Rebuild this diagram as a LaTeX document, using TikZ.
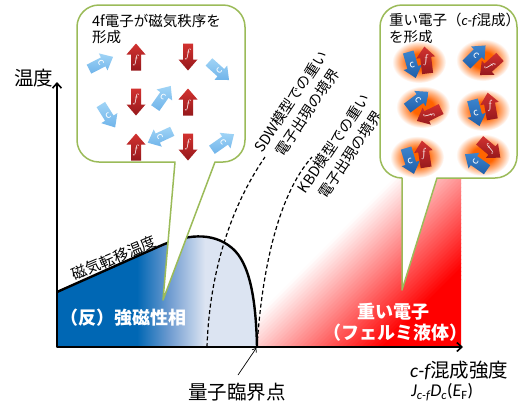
\documentclass[tikz,border=0pt]{standalone}
\usepackage{fontspec}
\newfontfamily\jp{Noto Sans CJK JP}
\newfontfamily\lat{Carlito}
\usetikzlibrary{arrows.meta}

\definecolor{bubblegreen}{RGB}{155,187,89}
\definecolor{phaseblue}{RGB}{0,103,180}
\definecolor{midblue}{RGB}{110,155,208}
\definecolor{paleblue}{RGB}{220,228,242}
\definecolor{lightc}{RGB}{160,212,246}
\definecolor{lightcdark}{RGB}{112,180,234}
\definecolor{fred}{RGB}{210,50,48}
\definecolor{freddark}{RGB}{150,25,28}
\definecolor{cblue}{RGB}{60,132,205}
\definecolor{cbluedark}{RGB}{32,95,170}
\definecolor{glowcore}{RGB}{255,100,0}

% ordered-phase fill: deep blue fading to pale blue towards the critical point
\pgfdeclarehorizontalshading{bluefade}{100bp}{color(0bp)=(phaseblue); color(45bp)=(phaseblue); color(53bp)=(midblue); color(62bp)=(paleblue); color(100bp)=(paleblue)}
% orange halo behind each c-f pair
\pgfdeclareradialshading{glow}{\pgfpoint{0bp}{0bp}}{color(0bp)=(glowcore); color(10bp)=(glowcore); color(18bp)=(glowcore!50!white); color(25bp)=(white); color(50bp)=(white)}

\begin{document}
\begin{tikzpicture}[x=1pt, y=-1pt, line join=round,
  axisline/.style={line width=1.6pt, {Straight Barb[length=5pt,width=9pt]}-{Straight Barb[length=5pt,width=9pt]}},
  bound/.style={line width=1.2pt, dash pattern=on 4pt off 2.6pt},
  bubble/.style={fill=white, draw=bubblegreen, line width=1.5pt},
  jlabel/.style={font=\jp\fontsize{19.5}{22}\selectfont, inner sep=0pt},
  phase/.style={text=white, font=\jp\bfseries\fontsize{18}{20}\selectfont, inner sep=0pt},
  curvetext/.style={font=\jp\fontsize{14.5}{18}\selectfont, align=center, inner sep=0pt},
  title/.style={font=\jp\fontsize{14.5}{16}\selectfont, anchor=west, inner sep=0pt},
  carrowL/.style={top color=lightc, bottom color=lightcdark},
  farrow/.style={top color=fred, bottom color=freddark},
  carrowR/.style={top color=cblue, bottom color=cbluedark},
  cletter/.style={text=white, font=\jp\fontsize{10}{10}\selectfont, inner sep=0pt},
  fletter/.style={text=white, font=\fontsize{12}{12}\selectfont, inner sep=0pt},
]
\useasboundingbox (0,0) rectangle (520,405);

\coordinate (O) at (57,347);
\coordinate (ytop) at (57,82);
\coordinate (xend) at (463,347);
\coordinate (qcp) at (257,347);
\coordinate (tc0) at (57,292);
\coordinate (qcptail) at (238,375);

% (anti)ferromagnetic phase
\shade[shading=bluefade] (O) -- (tc0) -- (160,246) .. controls (185,234.8) and (212,231) .. (232,248) .. controls (250,263) and (256,300) .. (qcp) -- cycle;

% heavy-fermion region, diagonal fade
\begin{scope}
  \clip (qcp) .. controls (262,270) and (278,195) .. (312,157) -- (461,157) -- (461,347) -- cycle;
  \foreach \p in {560,564,...,736}{
    \pgfmathsetmacro\pct{max(0,min(100,(\p+2-572)/1.58))}
    \fill[red!\pct!white] (\p-140,140) -- (\p+5-140,140) -- (\p+5-360,360) -- (\p-360,360) -- cycle;
  }
  \fill[red] (600,140) -- (900,140) -- (900,360) -- (380,360) -- cycle;
\end{scope}

% magnetic transition line
\draw[line width=2.4pt] (tc0) -- (160,246) .. controls (185,234.8) and (212,231) .. (232,248) .. controls (250,263) and (256,300) .. (qcp);

% heavy-electron crossover lines
\draw[bound] (207,347) .. controls (209,285) and (225,215) .. (265,157);
\draw[bound] (qcp) .. controls (262,270) and (278,195) .. (312,157);

% axes
\draw[axisline] (ytop) -- (O) -- (xend);

% labels
\node[jlabel] (tlabel) at (34,78) {温度};
\node[jlabel, anchor=west] (xlabel) at (410,370) {{\lat\itshape c-f}混成強度};
\node[anchor=west, inner sep=0pt, font=\lat\fontsize{18}{20}\selectfont] (xsym) at (411,392)
  {\itshape J\textsubscript{c-f}D\textsubscript{c}\upshape(\itshape E\textsubscript{\upshape F}\upshape)};
\node[jlabel] (qcplabel) at (237,392) {量子臨界点};
\node[rotate=23, inner sep=0pt, font=\jp\fontsize{15}{15}\selectfont] (tmlabel) at (114,258) {磁気転移温度};
\node[phase] (afm) at (123,318) {（反）強磁性相};
\node[phase] (hf1) at (393,312) {重い電子};
\node[phase] (hf2) at (395,333) {（フェルミ液体）};
\node[curvetext, rotate=56] (sdw) at (299,107) {SDW模型での重い\\[2pt]電子出現の境界};
\node[curvetext, rotate=56] (kbd) at (342,149) {KBD模型での重い\\[2pt]電子出現の境界};

\draw[line width=0.7pt, -{Straight Barb[length=3.5pt,width=5pt]}, shorten >=1pt] (qcptail) -- (qcp);

% bubble: magnetic order of 4f electrons
\draw[bubble] (175,162) -- (99,162) arc[start angle=90, end angle=180, radius=22]
  -- (77,27) arc[start angle=180, end angle=270, radius=22]
  -- (223,5) arc[start angle=270, end angle=360, radius=22]
  -- (245,140) arc[start angle=0, end angle=90, radius=22]
  -- (215,162) -- (163,300) -- cycle;
\node[title] (ttl1a) at (92,21) {4f電子が磁気秩序を};
\node[title] (ttl1b) at (92,37) {形成};

\foreach \x/\y/\a [count=\i] in {101/63/27, 219/71/-42, 163/97/55, 108/116/-58, 160/137/205, 223/142/35}{
  \pgfmathsetmacro\r{mod(\a+360,180)-90}
  \path[carrowL, shift={(\x,\y)}, rotate=\a] (-13.5,-5) -- (2.5,-5) -- (2.5,-9.5) -- (13.5,0) -- (2.5,9.5) -- (2.5,5) -- (-13.5,5) -- cycle;
  \node[cletter, rotate=\r] (lc\i) at (\x,\y) {c};
}
\foreach \x/\y/\a [count=\i] in {136/57/90, 188/57/-90, 136/102/-90, 188/102/90, 136/147/90, 188/147/-90}{
  \pgfmathsetmacro\lx{\x-3*cos(\a)}
  \pgfmathsetmacro\ly{\y+3*sin(\a)}
  \path[farrow, shift={(\x,\y)}, rotate=\a] (-13.5,-5) -- (2.5,-5) -- (2.5,-9.5) -- (13.5,0) -- (2.5,9.5) -- (2.5,5) -- (-13.5,5) -- cycle;
  \node[fletter] (lf\i) at (\lx,\ly) {$f$};
}

% bubble: heavy electrons from c-f hybridisation
\draw[bubble] (437,178) -- (495,178) arc[start angle=90, end angle=0, radius=22]
  -- (517,27) arc[start angle=0, end angle=-90, radius=22]
  -- (402,5) arc[start angle=270, end angle=180, radius=22]
  -- (380,156) arc[start angle=180, end angle=90, radius=22]
  -- (402,290) -- cycle;
\node[title] (ttl2a) at (389,20) {重い電子（{\lat\itshape c-f}混成）};
\node[title] (ttl2b) at (389,37) {を形成};

\foreach \gx/\gy/\bx/\by/\ba/\rx/\ry/\ra [count=\i] in {
    419/62/412/65/-74/426/60/97,
    483/60/476/55/45/490/66/222,
    423/107/418/100/37/429/115/206,
    483/110/476/113/-75/490/106/100,
    417/157/410/161/-73/424/154/99,
    483/155/476/162/145/490/149/-40}{
  \shade[shading=glow] (\gx,\gy) ellipse [x radius=27, y radius=21];
  \pgfmathsetmacro\br{mod(\ba+360,180)-90}
  \pgfmathsetmacro\rr{mod(\ra+360,180)-90}
  \path[carrowR, shift={(\bx,\by)}, rotate=\ba] (-13.5,-5.5) -- (2.5,-5.5) -- (2.5,-9.5) -- (13.5,0) -- (2.5,9.5) -- (2.5,5.5) -- (-13.5,5.5) -- cycle;
  \path[farrow, shift={(\rx,\ry)}, rotate=\ra] (-13.5,-5.5) -- (2.5,-5.5) -- (2.5,-9.5) -- (13.5,0) -- (2.5,9.5) -- (2.5,5.5) -- (-13.5,5.5) -- cycle;
  \node[cletter, rotate=\br] (rc\i) at (\bx,\by) {c};
  \node[fletter, rotate=\rr] (rf\i) at (\rx,\ry) {$f$};
}
\end{tikzpicture}
\end{document}
